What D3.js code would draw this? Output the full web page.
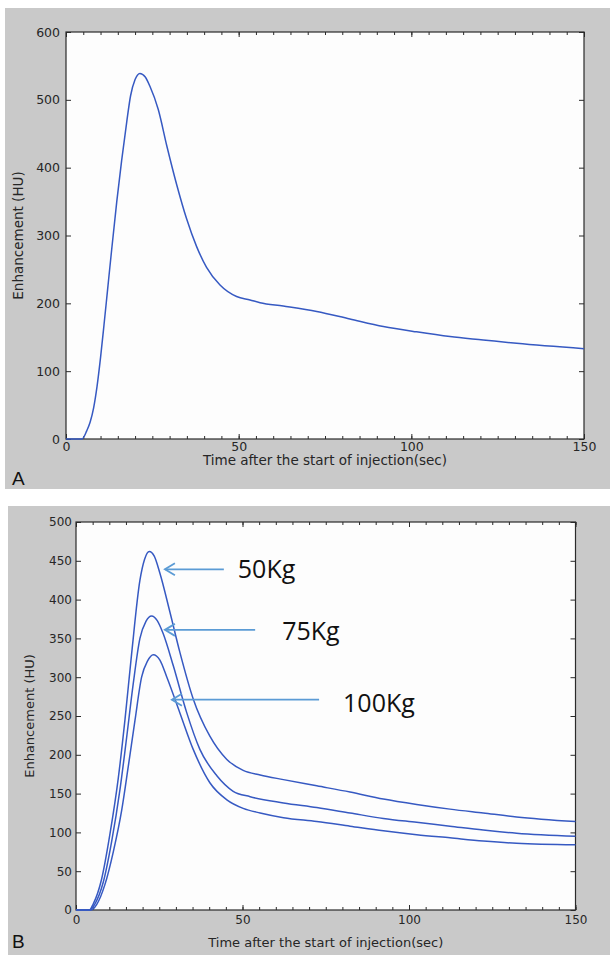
<!DOCTYPE html>
<html>
<head>
<meta charset="utf-8">
<script src="https://cdn.jsdelivr.net/npm/d3@7"></script>
<style>
  body { margin: 0; background: #fff; }
  svg { display: block; }
</style>
</head>
<body>
<svg id="chart"></svg>
<script>
// Panel A: single enhancement curve
const timeA = [0, 4.6, 6, 7, 8, 9, 10, 11, 12, 13, 14.7, 16.1, 17.6, 18.7, 20, 21.4, 22.9, 24.3, 26.7, 29.2, 32, 34.9, 37.8, 40.7, 44.6, 49.4, 53.3, 56.2, 62.9, 72.6, 82.2, 91.9, 101.5, 111.2, 120.8, 130.5, 150];
const enhA = [0, 0, 12, 25, 46, 78, 120, 168, 218, 268, 350, 410, 468, 506, 530, 539, 534, 520, 486, 432, 376, 325, 284, 253, 227, 210, 205, 201, 196, 188, 177, 166, 158, 151, 146, 141, 133];

// Panel B: three body weights
const time50 = [0, 4, 5.2, 7.7, 10.2, 12.7, 14.7, 16.7, 19.2, 20.6, 22, 23.5, 25.2, 28.2, 31.2, 35.2, 40.2, 45.3, 50.2, 55.3, 62.3, 72.3, 82.3, 92.3, 102.3, 112.3, 122.3, 132.3, 150];
const enh50 = [0, 0, 8, 40, 98, 170, 245, 330, 425, 452, 462, 456, 434, 384, 332, 272, 224, 194, 180, 174, 168, 160, 152, 143, 136, 130, 125, 120, 114];

const time75 = [0, 4, 5.7, 8.2, 10.7, 13.2, 15.2, 17.2, 19.2, 21, 22.7, 24.4, 26.2, 29.2, 33.2, 37.2, 42.3, 47.2, 52.3, 62.3, 72.3, 82.3, 92.3, 102.3, 112.3, 122.3, 132.3, 150];
const enh75 = [0, 0, 8, 36, 88, 155, 222, 292, 350, 372, 379, 373, 356, 315, 255, 207, 173, 153, 146, 138, 132, 125, 118, 113, 108, 103, 99, 95];

const time100 = [0, 4.5, 6.2, 8.7, 11.2, 13.7, 15.7, 17.7, 19.7, 21.5, 23.2, 25.2, 27.2, 31.2, 35.2, 40.2, 45.3, 50.2, 55.3, 62.3, 72.3, 82.3, 92.3, 102.3, 112.3, 122.3, 132.3, 150];
const enh100 = [0, 0, 7, 33, 75, 128, 185, 244, 300, 321, 329, 322, 301, 254, 207, 164, 142, 131, 125, 119, 114, 108, 102, 97, 93, 89, 86, 84];

// Tick labels
const xTicks = [0, 50, 100, 150];
const yTicksA = [0, 100, 200, 300, 400, 500, 600];
const yTicksB = [0, 50, 100, 150, 200, 250, 300, 350, 400, 450, 500];

// Arrow annotations in panel B (data units: tip, tail, label anchor)
const weightLabels = ["50Kg", "75Kg", "100Kg"];
const arrowTipT = [26.7, 26.7, 28.8];
const arrowTipHU = [439, 361, 271];
const arrowTailT = [44.4, 53.8, 73];
const labelT = [48.6, 61.9, 80.2];
const labelHU = [428, 348, 255];

const xLabel = "Time after the start of injection(sec)";
const yLabel = "Enhancement (HU)";

const W = 610, H = 955;
const lineColor = "#3659c2";
const axisColor = "#2a2a2a";
const tickFont = "DejaVu Sans, sans-serif";

const svg = d3.select("#chart").attr("width", W).attr("height", H);

svg.append("defs").append("marker")
    .attr("id", "head")
    .attr("markerUnits", "userSpaceOnUse")
    .attr("viewBox", "-12 -8 14 16")
    .attr("markerWidth", 14)
    .attr("markerHeight", 16)
    .attr("refX", 0)
    .attr("refY", 0)
    .attr("orient", "auto")
  .append("path")
    .attr("d", "M-10,-6L0,0L-10,6")
    .attr("fill", "none")
    .attr("stroke", "#5b9bd5")
    .attr("stroke-width", 1.8);

function drawPanel(cfg) {
  const g = svg.append("g");
  g.append("rect")
      .attr("x", cfg.bg[0]).attr("y", cfg.bg[1])
      .attr("width", cfg.bg[2]).attr("height", cfg.bg[3])
      .attr("fill", "#c9c9c9");

  const x = d3.scaleLinear().domain([0, 150]).range([cfg.left, cfg.right]);
  const y = d3.scaleLinear().domain([0, cfg.yMax]).range([cfg.bottom, cfg.top]);

  g.append("rect")
      .attr("x", cfg.left).attr("y", cfg.top)
      .attr("width", cfg.right - cfg.left).attr("height", cfg.bottom - cfg.top)
      .attr("fill", "#fdfdfd");

  const minor = d3.range(0, 151, 5);

  // minor x ticks, bottom and top (pointing inward)
  g.append("g").attr("transform", `translate(0,${cfg.bottom})`)
      .call(d3.axisBottom(x).tickValues(minor).tickSize(-3).tickFormat(""));
  g.append("g").attr("transform", `translate(0,${cfg.top})`)
      .call(d3.axisTop(x).tickValues(minor).tickSize(-3).tickFormat(""));
  // major x ticks with labels
  g.append("g").attr("class", "lab").attr("transform", `translate(0,${cfg.bottom})`)
      .call(d3.axisBottom(x).tickValues(xTicks).tickSize(-5).tickPadding(cfg.xPad).tickFormat(d3.format("d")));
  g.append("g").attr("transform", `translate(0,${cfg.top})`)
      .call(d3.axisTop(x).tickValues(xTicks).tickSize(-5).tickFormat(""));
  // y ticks
  g.append("g").attr("class", "lab").attr("transform", `translate(${cfg.left},0)`)
      .call(d3.axisLeft(y).tickValues(cfg.yTicks).tickSize(-5).tickPadding(cfg.yPad).tickFormat(d3.format("d")));
  g.append("g").attr("transform", `translate(${cfg.right},0)`)
      .call(d3.axisRight(y).tickValues(cfg.yTicks).tickSize(-5).tickFormat(""));

  g.selectAll(".domain").remove();
  g.selectAll(".tick line").attr("stroke", axisColor).attr("stroke-width", 1);
  g.selectAll(".lab text")
      .attr("fill", "#262626")
      .style("font-family", tickFont)
      .style("font-size", cfg.tickSize + "px");

  // box
  g.append("rect")
      .attr("x", cfg.left).attr("y", cfg.top)
      .attr("width", cfg.right - cfg.left).attr("height", cfg.bottom - cfg.top)
      .attr("fill", "none").attr("stroke", axisColor).attr("stroke-width", 1.2);

  const line = d3.line()
      .x(d => x(d[0]))
      .y(d => y(d[1]))
      .curve(d3.curveMonotoneX);

  cfg.series.forEach(s => {
    g.append("path")
        .datum(d3.zip(s[0], s[1]))
        .attr("d", line)
        .attr("fill", "none")
        .attr("stroke", lineColor)
        .attr("stroke-width", 1.5);
  });

  // axis titles
  g.append("text")
      .attr("x", (cfg.left + cfg.right) / 2)
      .attr("y", cfg.xTitleY)
      .attr("text-anchor", "middle")
      .attr("fill", "#262626")
      .style("font-family", tickFont)
      .style("font-size", cfg.titleSize + "px")
      .text(xLabel);
  g.append("text")
      .attr("transform", `translate(${cfg.yTitleX},${(cfg.top + cfg.bottom) / 2}) rotate(-90)`)
      .attr("text-anchor", "middle")
      .attr("fill", "#262626")
      .style("font-family", tickFont)
      .style("font-size", cfg.titleSize + "px")
      .text(yLabel);

  // panel letter
  g.append("text")
      .attr("x", 12).attr("y", cfg.letterY)
      .attr("fill", "#111")
      .style("font-family", "Liberation Sans, Arial, sans-serif")
      .style("font-size", "19px")
      .text(cfg.letter);

  return { g, x, y };
}

drawPanel({
  bg: [5, 8, 605, 481],
  left: 66, right: 584, top: 32, bottom: 439,
  yMax: 600, yTicks: yTicksA,
  xPad: 3, yPad: 6, tickSize: 12.5, titleSize: 13.5,
  xTitleY: 465, yTitleX: 23,
  letter: "A", letterY: 485,
  series: [[timeA, enhA]]
});

const pB = drawPanel({
  bg: [8, 506, 602, 449],
  left: 76, right: 575.5, top: 522, bottom: 910,
  yMax: 500, yTicks: yTicksB,
  xPad: 5, yPad: 4, tickSize: 12, titleSize: 13,
  xTitleY: 947, yTitleX: 34,
  letter: "B", letterY: 948,
  series: [[time50, enh50], [time75, enh75], [time100, enh100]]
});

// arrows and weight labels
weightLabels.forEach((lab, i) => {
  pB.g.append("line")
      .attr("x1", pB.x(arrowTailT[i])).attr("y1", pB.y(arrowTipHU[i]))
      .attr("x2", pB.x(arrowTipT[i])).attr("y2", pB.y(arrowTipHU[i]))
      .attr("stroke", "#5b9bd5")
      .attr("stroke-width", 1.8)
      .attr("marker-end", "url(#head)");
  pB.g.append("text")
      .attr("x", pB.x(labelT[i]))
      .attr("y", pB.y(labelHU[i]))
      .attr("fill", "#111")
      .style("font-family", "Open Sans, sans-serif")
      .style("font-size", "25px")
      .text(lab);
});
</script>
</body>
</html>
